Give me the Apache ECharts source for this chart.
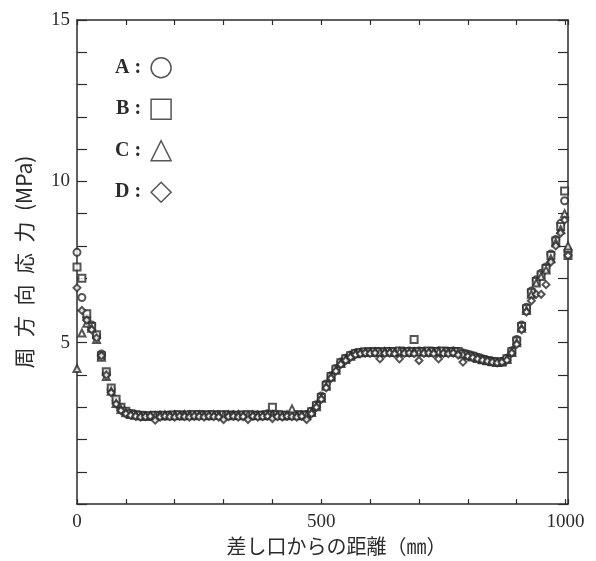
<!DOCTYPE html>
<html>
<head>
<meta charset="utf-8">
<script src="https://cdn.jsdelivr.net/npm/echarts@6/dist/echarts.min.js"></script>
<style>
  html, body { margin: 0; padding: 0; background: #fff; }
  #chart { width: 596px; height: 561px; }
</style>
</head>
<body>
<div id="chart"></div>
<script>
// distance from the spigot (mm)
const distance = [
  0, 10, 20, 30, 40, 50, 60, 70, 80, 90,
  100, 110, 120, 130, 140, 150, 160, 170, 180, 190,
  200, 210, 220, 230, 240, 250, 260, 270, 280, 290,
  300, 310, 320, 330, 340, 350, 360, 370, 380, 390,
  400, 410, 420, 430, 440, 450, 460, 470, 480, 490,
  500, 510, 520, 530, 540, 550, 560, 570, 580, 590,
  600, 610, 620, 630, 640, 650, 660, 670, 680, 690,
  700, 710, 720, 730, 740, 750, 760, 770, 780, 790,
  800, 810, 820, 830, 840, 850, 860, 870, 880, 890,
  900, 910, 920, 930, 940, 950, 960, 970, 980, 990,
  998, 1005
];

// hoop stress (MPa)
const stressA = [
  7.8, 6.4, 5.75, 5.55, 5.2, 4.65, 4.05, 3.55, 3.2, 2.98,
  2.86, 2.8, 2.76, 2.74, 2.74, 2.73, 2.74, 2.75, 2.74, 2.76,
  2.77, 2.75, 2.76, 2.78, 2.76, 2.75, 2.77, 2.78, 2.76, 2.77,
  2.76, 2.75, 2.77, 2.76, 2.75, 2.74, 2.75, 2.76, 2.77, 2.8,
  2.78, 2.76, 2.75, 2.74, 2.76, 2.75, 2.76, 2.78, 2.88, 3.08,
  3.35, 3.72, 3.98, 4.2, 4.4, 4.52, 4.62, 4.68, 4.7, 4.71,
  4.72, 4.72, 4.71, 4.72, 4.73, 4.72, 4.72, 4.73, 4.74, 4.73,
  4.74, 4.73, 4.72, 4.73, 4.74, 4.73, 4.72, 4.74, 4.72, 4.68,
  4.64, 4.6, 4.55, 4.5, 4.46, 4.43, 4.4, 4.42, 4.52, 4.75,
  5.1, 5.55, 6.1, 6.6, 6.95, 7.15, 7.35, 7.75, 8.2, 8.7,
  9.4, 7.85
];
const stressB = [
  7.35, 7.0, 5.9, 5.5, 5.25, 4.6, 4.1, 3.6, 3.25, 3.0,
  2.88, 2.8, 2.77, 2.75, 2.73, 2.74, 2.75, 2.73, 2.75, 2.74,
  2.76, 2.77, 2.74, 2.76, 2.77, 2.78, 2.75, 2.76, 2.77, 2.75,
  2.77, 2.76, 2.74, 2.75, 2.76, 2.77, 2.76, 2.74, 2.75, 2.76,
  3.0, 2.77, 2.76, 2.74, 2.75, 2.77, 2.76, 2.75, 2.86, 3.05,
  3.3, 3.68, 3.95, 4.18, 4.38, 4.5, 4.6, 4.67, 4.7, 4.72,
  4.71, 4.73, 4.72, 4.71, 4.73, 4.72, 4.74, 4.72, 4.73, 5.1,
  4.73, 4.72, 4.74, 4.73, 4.72, 4.74, 4.73, 4.72, 4.73, 4.66,
  4.62, 4.58, 4.53, 4.48, 4.45, 4.42, 4.4, 4.4, 4.5, 4.72,
  5.05, 5.5, 6.05, 6.55, 6.9, 7.1, 7.3, 7.7, 8.15, 8.6,
  9.7, 7.7
];
const stressC = [
  4.2, 5.3, 5.6, 5.45, 5.1, 4.55, 3.95, 3.5, 3.12, 2.93,
  2.83, 2.78, 2.75, 2.73, 2.72, 2.74, 2.73, 2.75, 2.76, 2.74,
  2.75, 2.74, 2.77, 2.75, 2.74, 2.76, 2.75, 2.74, 2.76, 2.75,
  2.74, 2.76, 2.75, 2.77, 2.74, 2.75, 2.76, 2.75, 2.74, 2.75,
  2.76, 2.75, 2.74, 2.76, 2.95, 2.74, 2.75, 2.74, 2.84, 3.02,
  3.28, 3.65, 3.93, 4.15, 4.36, 4.48, 4.58, 4.66, 4.69, 4.7,
  4.7, 4.71, 4.7, 4.72, 4.71, 4.7, 4.72, 4.71, 4.7, 4.72,
  4.71, 4.72, 4.7, 4.71, 4.72, 4.7, 4.71, 4.72, 4.7, 4.65,
  4.6, 4.56, 4.51, 4.47, 4.44, 4.41, 4.39, 4.41, 4.48, 4.7,
  5.0, 5.45, 6.0, 6.5, 6.85, 7.05, 7.25, 7.6, 8.1, 8.5,
  9.0, 8.0
];
const stressD = [
  6.7, 6.0, 5.7, 5.4, 5.15, 4.6, 4.0, 3.45, 3.1, 2.9,
  2.8, 2.75, 2.72, 2.7, 2.71, 2.72, 2.6, 2.7, 2.72, 2.71,
  2.7, 2.72, 2.71, 2.7, 2.72, 2.71, 2.7, 2.72, 2.71, 2.7,
  2.62, 2.71, 2.72, 2.7, 2.71, 2.62, 2.72, 2.7, 2.71, 2.72,
  2.65, 2.71, 2.7, 2.72, 2.71, 2.7, 2.72, 2.62, 2.8, 3.0,
  3.25, 3.6, 3.9, 4.12, 4.33, 4.45, 4.55, 4.63, 4.66, 4.68,
  4.67, 4.68, 4.5, 4.67, 4.68, 4.66, 4.5, 4.67, 4.68, 4.66,
  4.45, 4.67, 4.68, 4.66, 4.5, 4.67, 4.66, 4.68, 4.62, 4.4,
  4.58, 4.54, 4.5, 4.46, 4.43, 4.4, 4.38, 4.4, 4.46, 4.68,
  4.95, 5.4, 5.95, 6.3, 6.5, 6.5, 6.8, 7.5, 8.0, 8.4,
  8.8, 7.7
];

const seriesNames = ['A', 'B', 'C', 'D'];
const seriesSymbols = ['circle', 'rect', 'triangle', 'diamond'];
const xTickLabels = [0, 500, 1000];
const yTickLabels = [5, 10, 15];

const ink = '#2b2b2b';
const serif = '"Liberation Serif", "DejaVu Serif", serif';
const jp = '"Noto Sans CJK JP", sans-serif';

const chart = echarts.init(document.getElementById('chart'));

const allStress = [stressA, stressB, stressC, stressD];
const series = allStress.map((vals, k) => ({
  name: seriesNames[k],
  type: 'scatter',
  symbol: 'empty' + seriesSymbols[k].charAt(0).toUpperCase() + seriesSymbols[k].slice(1),
  symbolSize: 7,
  itemStyle: { color: ink, borderColor: ink, borderWidth: 1.4 },
  data: distance.map((d, i) => [d, vals[i]])
}));

const axisLine = { onZero: false, lineStyle: { color: ink, width: 1.5 } };

const option = {
  backgroundColor: '#fff',
  animation: false,
  grid: { left: 77, right: 28, top: 20, bottom: 55 },
  legend: {
    orient: 'vertical',
    left: 110,
    top: 52,
    align: 'right',
    itemWidth: 20,
    itemHeight: 20,
    itemGap: 20,
    selectedMode: false,
    formatter: name => name + ' : ',
    textStyle: { fontFamily: serif, fontSize: 20, color: ink, fontWeight: 'bold' },
    data: seriesNames.map((n, k) => ({
      name: n,
      icon: seriesSymbols[k],
      itemStyle: { color: '#fff', borderColor: ink, borderWidth: 1.5 }
    }))
  },
  xAxis: [
    {
      type: 'value',
      min: 0,
      max: 1005,
      interval: 100,
      name: '差し口からの距離（㎜）',
      nameLocation: 'middle',
      nameGap: 31,
      nameTextStyle: { fontFamily: jp, fontSize: 20, color: ink, padding: [0, 0, 0, 28] },
      axisLine: axisLine,
      axisTick: { inside: true, length: 5, lineStyle: { color: ink, width: 1.2 } },
      axisLabel: {
        margin: 8,
        fontFamily: serif,
        fontSize: 19,
        color: ink,
        formatter: v => (xTickLabels.includes(v) ? String(v) : '')
      },
      splitLine: { show: false }
    },
    {
      type: 'value',
      position: 'top',
      min: 0,
      max: 1005,
      interval: 100,
      axisLine: axisLine,
      axisTick: { inside: true, length: 5, lineStyle: { color: ink, width: 1.2 } },
      axisLabel: { show: false },
      splitLine: { show: false }
    }
  ],
  yAxis: [
    {
      type: 'value',
      min: 0,
      max: 15,
      interval: 1,
      name: '周\u2002方\u2002向\u2002応\u2002力\u2002(MPa)',
      nameLocation: 'middle',
      nameGap: 42,
      nameTextStyle: { fontFamily: jp, fontSize: 21, color: ink },
      axisLine: axisLine,
      axisTick: { inside: true, length: 10, lineStyle: { color: ink, width: 1.2 } },
      axisLabel: {
        margin: 7,
        fontFamily: serif,
        fontSize: 19,
        color: ink,
        formatter: v => (yTickLabels.includes(v) ? String(v) : '')
      },
      splitLine: { show: false }
    },
    {
      type: 'value',
      position: 'right',
      min: 0,
      max: 15,
      interval: 1,
      axisLine: axisLine,
      axisTick: { inside: true, length: 10, lineStyle: { color: ink, width: 1.2 } },
      axisLabel: { show: false },
      splitLine: { show: false }
    }
  ],
  series: series
};

chart.setOption(option);
</script>
</body>
</html>
